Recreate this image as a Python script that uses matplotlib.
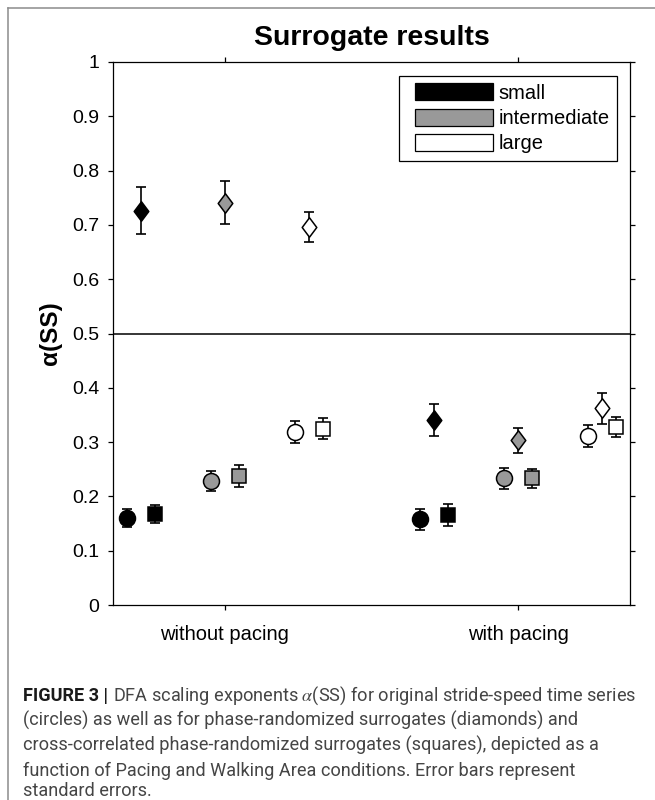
import matplotlib
matplotlib.use("Agg")
import matplotlib.pyplot as plt
from matplotlib.path import Path
from matplotlib.patches import Patch, Rectangle
from matplotlib.legend_handler import HandlerPatch
from matplotlib.lines import Line2D

plt.rcParams['font.family'] = ['Liberation Sans', 'DejaVu Sans']
plt.rcParams['mathtext.fontset'] = 'stix'

# ---------------- data ----------------
conditions = ["without pacing", "with pacing"]
areas = ["small", "intermediate", "large"]
area_colors = ["#000000", "#999999", "#ffffff"]

# original series (circles): [condition][area]
orig_mean = [[0.160, 0.228, 0.319], [0.158, 0.233, 0.311]]
orig_se = [[0.016, 0.018, 0.020], [0.019, 0.019, 0.020]]
# phase-randomized surrogates (diamonds)
prs_mean = [[0.726, 0.741, 0.696], [0.341, 0.303, 0.362]]
prs_se = [[0.043, 0.039, 0.027], [0.030, 0.023, 0.029]]
# cross-correlated phase-randomized surrogates (squares)
ccprs_mean = [[0.168, 0.238, 0.325], [0.166, 0.233, 0.328]]
ccprs_se = [[0.017, 0.020, 0.019], [0.020, 0.017, 0.018]]

yticks = [0, 0.1, 0.2, 0.3, 0.4, 0.5, 0.6, 0.7, 0.8, 0.9, 1]
ytick_labels = ["0", "0.1", "0.2", "0.3", "0.4", "0.5", "0.6", "0.7", "0.8", "0.9", "1"]

caption_bold = "FIGURE 3 |"
caption_lines = [
    r"DFA scaling exponents $\alpha$(SS) for original stride-speed time series",
    "(circles) as well as for phase-randomized surrogates (diamonds) and",
    "cross-correlated phase-randomized surrogates (squares), depicted as a",
    "function of Pacing and Walking Area conditions. Error bars represent",
    "standard errors.",
]

# ---------------- figure ----------------
W, H = 655, 800
fig = plt.figure(figsize=(W / 100, H / 100), dpi=100)
ax = fig.add_axes([113 / W, 1 - 605 / H, 517 / W, 543 / H])

# outer gray frame
fig.add_artist(Line2D([8 / W, 1.0], [1 - 8 / H, 1 - 8 / H], color="#8c8c8c", lw=1.1,
                      transform=fig.transFigure))
fig.add_artist(Line2D([8 / W, 8 / W], [1 - 8 / H, 0.0], color="#8c8c8c", lw=1.1,
                      transform=fig.transFigure))

diamond = Path([(0, 1), (0.75, 0), (0, -1), (-0.75, 0), (0, 1)],
               [Path.MOVETO, Path.LINETO, Path.LINETO, Path.LINETO, Path.CLOSEPOLY])

area_offsets = [-0.286, 0.0, 0.286]
series = [
    (orig_mean, orig_se, "o", 11.5, -0.048),
    (prs_mean, prs_se, diamond, 14, 0.0),
    (ccprs_mean, ccprs_se, "s", 9.8, 0.048),
]

for ci in range(len(conditions)):
    for ai in range(len(areas)):
        for means, ses, mk, ms, shift in series:
            ax.errorbar(ci + 1 + area_offsets[ai] + shift, means[ci][ai], yerr=ses[ci][ai],
                        fmt="none", ecolor="k", elinewidth=1.2, capsize=3.9, capthick=1.2,
                        zorder=2)
            ax.plot(ci + 1 + area_offsets[ai] + shift, means[ci][ai], linestyle="none",
                    marker=mk, ms=ms, mfc=area_colors[ai], mec="k", mew=1.1, zorder=3)

ax.axhline(0.5, color="k", lw=1.1, zorder=1)

ax.set_xlim(0.618, 2.382)
ax.set_ylim(0, 1)
ax.set_xticks([1, 2])
ax.set_xticklabels(conditions)
ax.set_yticks(yticks)
ax.set_yticklabels(ytick_labels)
ax.tick_params(direction="out", length=3.6, width=0.9, top=True, right=True,
               labelsize=14, colors="k")
ax.tick_params(axis="y", pad=6.3)
ax.tick_params(axis="x", pad=10.5, labelsize=14.5)
for sp in ax.spines.values():
    sp.set_linewidth(0.9)

ax.set_ylabel("α(SS)", fontsize=17.5, fontweight="bold")
ax.yaxis.set_label_coords(-0.098, 0.5)

fig.text(371.5 / W, 1 - 45 / H, "Surrogate results", fontsize=20.5, fontweight="bold",
         ha="center", va="baseline")

# legend
def make_rect(legend, orig_handle, xdescent, ydescent, width, height, fontsize):
    off = 6.5
    return Rectangle((-xdescent + off, -ydescent), width - off, height)

handles = [Patch(facecolor=c, edgecolor="k", lw=0.9, label=a) for a, c in zip(areas, area_colors)]
leg = ax.legend(handles=handles, loc="upper right", bbox_to_anchor=(0.975, 0.974),
                borderaxespad=0, fontsize=14.5, handlelength=4.32, handleheight=0.94,
                handletextpad=0.3, labelspacing=0.29, borderpad=0.35, fancybox=False,
                framealpha=1, edgecolor="k",
                handler_map={Patch: HandlerPatch(patch_func=make_rect)})
leg.get_frame().set_linewidth(0.9)

# caption
cap_fam = ["Roboto", "Liberation Sans", "DejaVu Sans"]
cap_x = 23
baselines = [701, 726, 751, 776, 796]
fs0 = 12.5
t_bold = fig.text(cap_x / W, 1 - baselines[0] / H, caption_bold, fontsize=fs0,
                  fontweight="bold", color="#1a1a1a", ha="left", va="baseline", family=cap_fam)
texts = []
for i, s in enumerate(caption_lines):
    texts.append(fig.text(cap_x / W, 1 - baselines[i] / H, s, fontsize=fs0, fontweight="normal",
                          color="#454545", ha="left", va="baseline", family=cap_fam))

renderer = fig.canvas.get_renderer()


def place_first(fs):
    bb = t_bold.get_window_extent(renderer)
    texts[0].set_x((bb.x1 + 0.27 * fs * 100 / 72) / W)


place_first(fs0)
bb_r = texts[0].get_window_extent(renderer)
bb_b = t_bold.get_window_extent(renderer)
width = bb_r.x1 - bb_b.x0
fs = fs0 * 615.0 / width
fs = max(10.5, min(14.0, fs))
t_bold.set_fontsize(fs)
for t in texts:
    t.set_fontsize(fs)
place_first(fs)

fig.savefig("out.png", dpi=100)
